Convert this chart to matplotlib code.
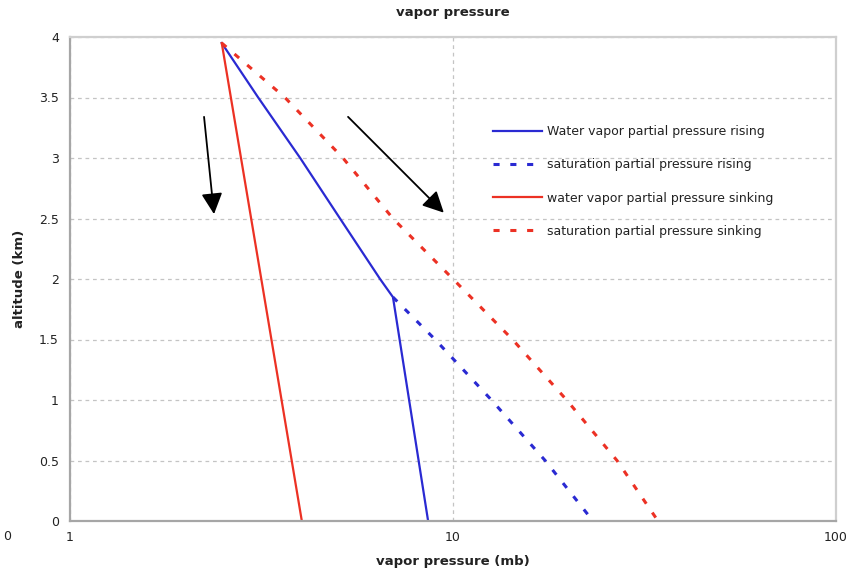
import matplotlib
matplotlib.use("Agg")
import matplotlib.pyplot as plt

# Altitude (km) and vapor pressure (mb) for each profile
alt_rising = [3.95, 3.5, 3.0, 2.5, 2.0, 1.85, 0.0]
vp_rising = [2.49, 3.10, 3.99, 5.07, 6.45, 6.97, 8.61]

alt_sat_rising = [1.85, 1.5, 1.0, 0.5, 0.0]
vp_sat_rising = [6.97, 8.98, 12.6, 17.4, 23.2]

alt_sinking = [3.95, 0.0]
vp_sinking = [2.49, 4.03]

alt_sat_sinking = [3.95, 3.5, 3.0, 2.5, 2.0, 1.5, 1.0, 0.5, 0.0]
vp_sat_sinking = [2.49, 3.64, 5.16, 6.97, 10.0, 14.3, 19.8, 26.8, 34.3]

labels = [
    "Water vapor partial pressure rising",
    "saturation partial pressure rising",
    "water vapor partial pressure sinking",
    "saturation partial pressure sinking",
]

y_ticks = [0, 0.5, 1, 1.5, 2, 2.5, 3, 3.5, 4]
y_tick_labels = ["0", "0.5", "1", "1.5", "2", "2.5", "3", "3.5", "4"]
x_ticks = [1, 10, 100]
x_tick_labels = ["1", "10", "100"]

BLUE = "#2a2ad2"
RED = "#ec3124"
GRID = "#c4c4c4"
SPINE = "#a6a6a6"
TEXT = "#222222"

fig = plt.figure(figsize=(8.53, 5.74), dpi=100)
ax = fig.add_axes([70 / 853, 53 / 574, 766 / 853, 484 / 574])

dash = (0, (2.0, 3.5))
ax.plot(vp_rising, alt_rising, color=BLUE, lw=1.6, label=labels[0])
ax.plot(vp_sat_rising, alt_sat_rising, color=BLUE, lw=2.2, linestyle=dash, label=labels[1])
ax.plot(vp_sinking, alt_sinking, color=RED, lw=1.6, label=labels[2])
ax.plot(vp_sat_sinking, alt_sat_sinking, color=RED, lw=2.2, linestyle=dash, label=labels[3])

ax.set_xscale("log")
ax.set_xlim(1, 100)
ax.set_ylim(0, 4)
ax.set_xticks(x_ticks)
ax.set_xticklabels(x_tick_labels)
ax.minorticks_off()
ax.set_yticks(y_ticks)
ax.set_yticklabels(y_tick_labels)
ax.tick_params(axis="both", length=0, labelsize=9, colors=TEXT)
ax.tick_params(axis="x", pad=7)
ax.tick_params(axis="y", pad=8)

ax.grid(True, which="major", color=GRID, linestyle=(0, (3, 3)), lw=0.9)
ax.set_axisbelow(True)
for s in ax.spines.values():
    s.set_color(SPINE)
    s.set_linewidth(1.6)
ax.spines["top"].set_color("#cfcfcf")
ax.spines["right"].set_color("#cfcfcf")

ax.set_title("vapor pressure", fontsize=9.5, fontweight="bold", color=TEXT, pad=15)
ax.set_xlabel("vapor pressure (mb)", fontsize=9.5, fontweight="bold", color=TEXT, labelpad=8)
ax.set_ylabel("altitude (km)", fontsize=9.5, fontweight="bold", color=TEXT, labelpad=9)

leg = ax.legend(
    loc="upper left",
    bbox_to_anchor=(0.552, 0.818),
    frameon=False,
    fontsize=9,
    handlelength=3.9,
    handletextpad=0.4,
    labelspacing=1.62,
    borderpad=0,
    borderaxespad=0,
)
for t in leg.get_texts():
    t.set_color(TEXT)

# Direction arrows for the sinking and rising parcels
arrow_kw = dict(arrowstyle="-|>", color="black", lw=1.3, mutation_scale=32, shrinkA=0, shrinkB=0)
ax.annotate("", xy=(0.188, 0.634), xytext=(0.175, 0.835),
            xycoords="axes fraction", textcoords="axes fraction", arrowprops=arrow_kw)
ax.annotate("", xy=(0.488, 0.637), xytext=(0.363, 0.835),
            xycoords="axes fraction", textcoords="axes fraction", arrowprops=arrow_kw)

fig.text(3 / 853, 1 - 537 / 574, "0", fontsize=9, color=TEXT, va="center", ha="left")

fig.savefig("out.png", dpi=100)
